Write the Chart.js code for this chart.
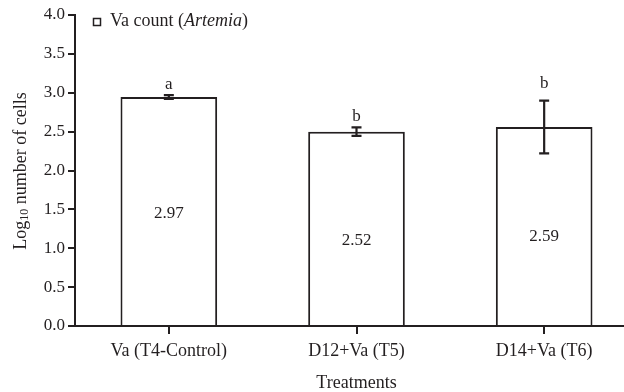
<!DOCTYPE html>
<html>
<head>
<meta charset="utf-8">
<script src="https://cdn.jsdelivr.net/npm/chart.js@4/dist/chart.umd.min.js"></script>
<style>
html,body{margin:0;padding:0;background:#fff;overflow:hidden;}
#wrap{position:relative;width:660px;height:392px;}
</style>
</head>
<body>
<div id="wrap"><canvas id="c" width="660" height="392"></canvas></div>
<script>
// ---- data ----
const categories = ['Va (T4-Control)', 'D12+Va (T5)', 'D14+Va (T6)'];
const vaCount = [2.945, 2.50, 2.56];
const vaError = [0.025, 0.055, 0.34];
const valueLabels = ['2.97', '2.52', '2.59'];
const groupLetters = ['a', 'b', 'b'];
const yTicks = [0, 0.5, 1.0, 1.5, 2.0, 2.5, 3.0, 3.5, 4.0];
const seriesName = 'Va count';
const seriesOrganism = 'Artemia';

const INK = '#231f20';
const FONT = 'Liberation Serif, Times New Roman, serif';

const overlay = {
  id: 'overlay',
  afterDatasetsDraw(chart) {
    const ctx = chart.ctx;
    const x = chart.scales.x, y = chart.scales.y;
    // annotation anchors (value units)
    const letterAt = [3.05, 2.64, 3.06];
    const labelAt = [1.445, 1.095, 1.145];
    ctx.save();
    ctx.strokeStyle = INK;
    ctx.fillStyle = INK;
    ctx.lineWidth = 2.2;
    vaCount.forEach((v, i) => {
      const cx = x.getPixelForValue(i);
      const yt = y.getPixelForValue(v + vaError[i]);
      const yb = y.getPixelForValue(v - vaError[i]);
      ctx.beginPath();
      ctx.moveTo(cx, yt); ctx.lineTo(cx, yb);
      ctx.moveTo(cx - 5, yt); ctx.lineTo(cx + 5, yt);
      ctx.moveTo(cx - 5, yb); ctx.lineTo(cx + 5, yb);
      ctx.stroke();
      ctx.font = '17px ' + FONT;
      ctx.textAlign = 'center';
      ctx.textBaseline = 'alphabetic';
      ctx.fillText(groupLetters[i], cx, y.getPixelForValue(letterAt[i]));
    });
    ctx.font = '17px ' + FONT;
    ctx.textAlign = 'center';
    ctx.textBaseline = 'middle';
    valueLabels.forEach((t, i) => {
      ctx.fillText(t, x.getPixelForValue(i), y.getPixelForValue(labelAt[i]));
    });
    // legend
    ctx.lineWidth = 1.5;
    ctx.strokeRect(93.5, 18.5, 7, 7);
    ctx.textAlign = 'left';
    ctx.textBaseline = 'alphabetic';
    let tx = 110;
    const base = 26;
    ctx.font = '18px ' + FONT;
    const p1 = seriesName + ' (';
    ctx.fillText(p1, tx, base); tx += ctx.measureText(p1).width;
    ctx.font = 'italic 18px ' + FONT;
    ctx.fillText(seriesOrganism, tx, base); tx += ctx.measureText(seriesOrganism).width;
    ctx.font = '18px ' + FONT;
    ctx.fillText(')', tx, base);
    // y title with subscript
    ctx.translate(21, 171);
    ctx.rotate(-Math.PI / 2);
    const a = 'Log', b = '10', c = ' number of cells';
    ctx.font = '18px ' + FONT; const wa = ctx.measureText(a).width;
    ctx.font = '12px ' + FONT; const wb = ctx.measureText(b).width;
    ctx.font = '18px ' + FONT; const wc = ctx.measureText(c).width;
    let sx = -(wa + wb + wc) / 2;
    ctx.textBaseline = 'middle';
    ctx.font = '18px ' + FONT; ctx.fillText(a, sx, 0); sx += wa;
    ctx.font = '12px ' + FONT; ctx.fillText(b, sx, 4); sx += wb;
    ctx.font = '18px ' + FONT; ctx.fillText(c, sx, 0);
    ctx.restore();
  }
};

new Chart(document.getElementById('c'), {
  type: 'bar',
  data: {
    labels: categories,
    datasets: [{
      label: seriesName,
      data: vaCount,
      backgroundColor: '#ffffff',
      borderColor: INK,
      borderWidth: 2,
      borderSkipped: 'bottom',
      barPercentage: 0.515,
      categoryPercentage: 1.0
    }]
  },
  options: {
    responsive: false,
    animation: false,
    events: [],
    layout: { padding: { top: 15, right: 22, left: 0, bottom: 0 } },
    plugins: { legend: { display: false }, tooltip: { enabled: false } },
    scales: {
      x: {
        afterFit(s) { s.height = 66; },
        grid: { display: true, drawOnChartArea: false, drawTicks: true, tickLength: 8, offset: false, color: INK, lineWidth: 2 },
        border: { display: true, color: INK, width: 2 },
        ticks: { color: INK, font: { family: FONT, size: 18 }, padding: 6, maxRotation: 0, autoSkip: false },
        title: { display: true, text: 'Treatments', color: INK, font: { family: FONT, size: 18, lineHeight: 1 }, padding: { top: 8, bottom: 0 } }
      },
      y: {
        min: 0, max: 4,
        afterFit(s) { s.width = 75; },
        afterBuildTicks(s) { s.ticks = yTicks.map(v => ({ value: v })); },
        grid: { display: true, drawOnChartArea: false, drawTicks: true, tickLength: 7, color: INK, lineWidth: 2 },
        border: { display: true, color: INK, width: 2 },
        ticks: { color: INK, font: { family: FONT, size: 17 }, padding: 3, callback: v => v.toFixed(1) }
      }
    }
  },
  plugins: [overlay]
});
</script>
</body>
</html>
